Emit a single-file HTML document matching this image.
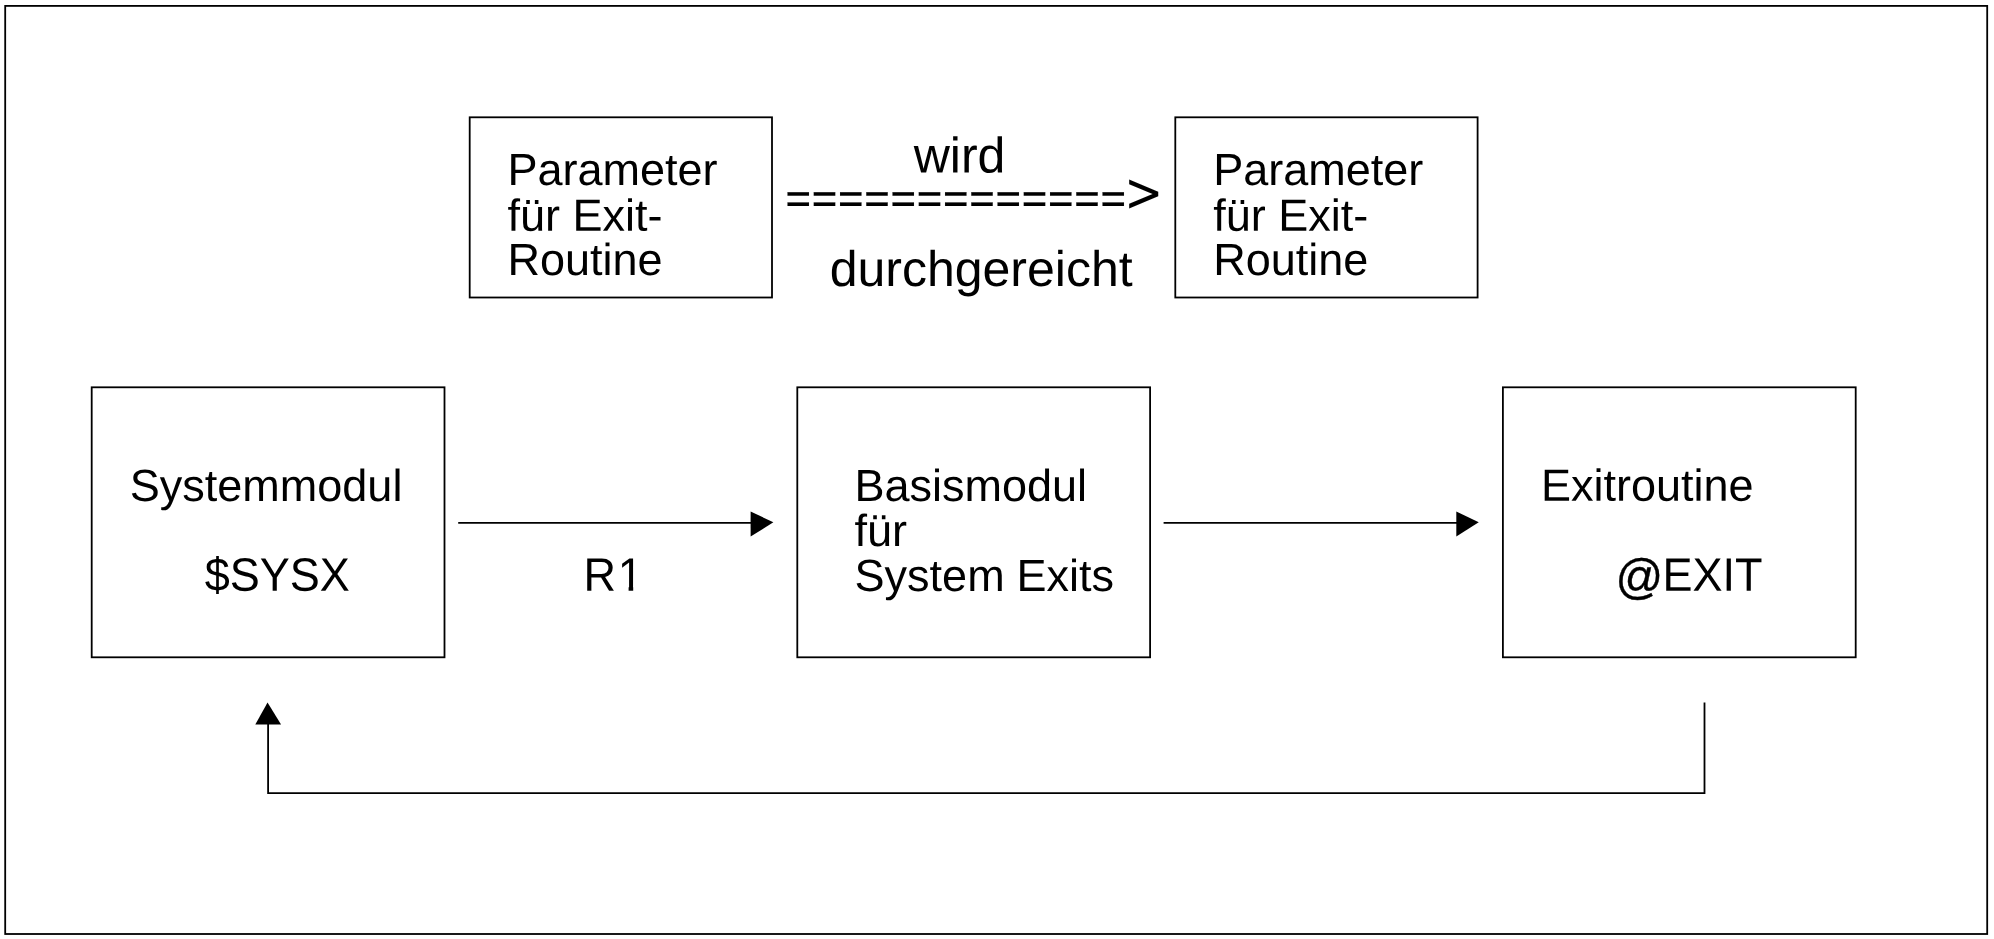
<!DOCTYPE html>
<html lang="de">
<head>
<meta charset="utf-8">
<title>Systemmodul – Basismodul für System Exits – Exitroutine</title>
<style>
html,body{margin:0;padding:0;background:#fff;}
body{width:1994px;height:939px;overflow:hidden;}
svg{display:block;will-change:transform;}
text{font-family:"Liberation Sans",sans-serif;fill:#000;white-space:pre;text-rendering:geometricPrecision;}
tspan.eq{font-family:"Liberation Serif",serif;font-weight:bold;}
tspan.gt{font-family:"DejaVu Sans","Liberation Sans",sans-serif;}
.ln{fill:none;stroke:#000;stroke-width:1.8;}
.ah{fill:#000;stroke:none;}
.cv{fill:#fff;stroke:none;}
</style>
</head>
<body>
<svg width="1994" height="939" viewBox="0 0 1994 939">
<rect x="0" y="0" width="1994" height="939" fill="#fff"/>
<g class="ln">
<rect x="5.2" y="5.9" width="1982.0" height="928.1"/>
<rect x="469.7" y="117.3" width="302.3" height="180.2"/>
<rect x="1175.3" y="117.3" width="302.3" height="180.2"/>
<rect x="91.7" y="387.3" width="352.8" height="270.0"/>
<rect x="797.3" y="387.3" width="352.8" height="270.0"/>
<rect x="1502.9" y="387.3" width="352.8" height="270.0"/>
<path d="M458.2 522.9H752"/>
<path d="M1163.6 522.9H1457"/>
<path d="M1704.5 702.4V793.05H268.1V724"/>
</g>
<g class="ah">
<path d="M750.6 511.45L773.35 522.35L750.6 536.45Z"/>
<path d="M1456.3 511.4L1478.75 522.35L1456.3 536.5Z"/>
<path d="M267.55 702.6L281.05 724.5H255.3Z"/>
</g>
<g>
<text x="507.5" y="185.0" font-size="45.0" transform="rotate(0.03 612.5 173.0)">Parameter</text>
<text x="507.5" y="230.75" font-size="45.0" transform="rotate(0.03 582.5 218.8)">für Exit-</text>
<text x="507.5" y="275.0" font-size="45.0" transform="rotate(0.03 582.5 263.0)">Routine</text>
<text x="1213.2" y="185.0" font-size="45.0" transform="rotate(0.03 1318.2 173.0)">Parameter</text>
<text x="1213.2" y="230.75" font-size="45.0" transform="rotate(0.03 1288.2 218.8)">für Exit-</text>
<text x="1213.2" y="275.0" font-size="45.0" transform="rotate(0.03 1288.2 263.0)">Routine</text>
<text x="913.7" y="172.5" font-size="50.0" transform="rotate(0.03 958.7 160.5)">wird</text>
<text x="829.7" y="286.0" font-size="50.0" transform="rotate(0.03 980.7 274.0)">durchgereicht</text>
<text x="129.8" y="501.0" font-size="45.0" transform="rotate(0.03 264.8 489.0)">Systemmodul</text>
<text x="854.5" y="501.0" font-size="45.0" transform="rotate(0.03 970.5 489.0)">Basismodul</text>
<text x="854.5" y="546.0" font-size="45.0" transform="rotate(0.03 884.5 534.0)">für</text>
<text x="854.6" y="591.0" font-size="45.0" transform="rotate(0.03 983.6 579.0)">System <tspan dx="-0.7">Exits</tspan></text>
<text x="1540.9" y="500.75" font-size="45.0" transform="rotate(0.03 1646.9 488.8)">Exitroutine</text>
<text x="785.3" y="216"><tspan class="eq" font-size="51.0" stroke="#000" stroke-width="0.15" textLength="341.19" lengthAdjust="spacingAndGlyphs">=============</tspan><tspan class="gt" x="1124.22" y="211.0" font-size="54.3" textLength="38.91" lengthAdjust="spacingAndGlyphs">&gt;</tspan></text>
<text transform="translate(204.8 590.75) rotate(0.03) scale(1 1.04)" font-size="45">$SYSX</text>
<text transform="translate(583.4 590.75) rotate(0.03) scale(1 1.04)" font-size="45">R<tspan dx="1.9">1</tspan></text>
<text transform="translate(1615.5 590.75) rotate(0.03) scale(1 1.04)" font-size="45"><tspan font-size="47" dy="2.35" stroke="#000" stroke-width="0.4">@</tspan><tspan dx="-0.81" dy="-2.35">EXIT</tspan></text>
</g>
<g class="cv">
<rect x="618" y="586.5" width="10.6" height="6"/>
<rect x="633.2" y="586.5" width="9" height="6"/>
</g>
</svg>
</body>
</html>
